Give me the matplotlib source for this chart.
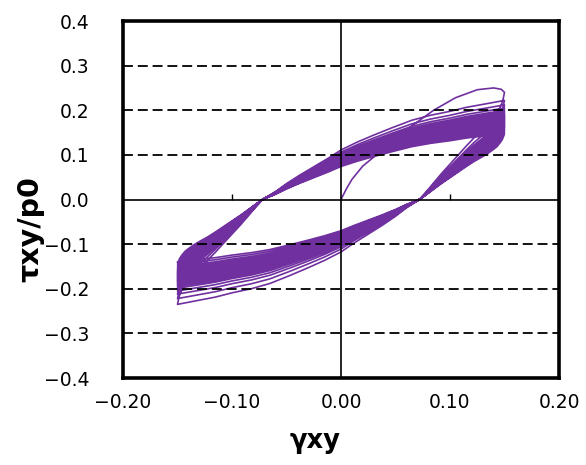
import numpy as np
import matplotlib
matplotlib.use("Agg")
import matplotlib.pyplot as plt

# axis ticks
x_ticks = [-0.20, -0.10, 0.00, 0.10, 0.20]
x_tick_labels = ["\u22120.20", "\u22120.10", "0.00", "0.10", "0.20"]
y_ticks = [-0.4, -0.3, -0.2, -0.1, 0.0, 0.1, 0.2, 0.3, 0.4]
y_tick_labels = ["\u22120.4", "\u22120.3", "\u22120.2", "\u22120.1", "0.0", "0.1", "0.2", "0.3", "0.4"]
grid_levels = [-0.3, -0.2, -0.1, 0.1, 0.2, 0.3]

# first loading from the origin
gamma_first = [0.000, 0.005, 0.010, 0.020, 0.030, 0.045, 0.065, 0.085, 0.105, 0.125, 0.140, 0.147, 0.150]
tau_first = [0.000, 0.024, 0.045, 0.075, 0.095, 0.125, 0.165, 0.200, 0.228, 0.246, 0.250, 0.247, 0.240]

# shape of a loading branch, tau / peak, from -gamma_a to +gamma_a
gamma_branch = [-0.150, -0.149, -0.148, -0.146, -0.143, -0.140, -0.135, -0.130, -0.122,
                -0.115, -0.108, -0.100, -0.092, -0.085, -0.078, -0.072, -0.060, -0.050,
                -0.038, -0.025, -0.012, 0.000, 0.015, 0.030, 0.047, 0.065, 0.082,
                0.100, 0.115, 0.130, 0.142, 0.150]
tau_branch = [-1.00, -0.95, -0.91, -0.86, -0.80, -0.76, -0.70, -0.65, -0.575,
              -0.50, -0.42, -0.33, -0.24, -0.155, -0.07, 0.00, 0.08, 0.16,
              0.245, 0.33, 0.415, 0.50, 0.58, 0.65, 0.725, 0.80, 0.85,
              0.89, 0.93, 0.96, 0.985, 1.00]

# peak stress of each cycle
pos_peaks = [0.240, 0.222, 0.212, 0.205, 0.200, 0.197, 0.194, 0.191, 0.189, 0.187,
             0.185, 0.183, 0.181, 0.179, 0.177, 0.175, 0.173, 0.171, 0.169, 0.167,
             0.165, 0.163, 0.161, 0.158, 0.155, 0.152, 0.148]
neg_peaks = [-0.235, -0.222, -0.212, -0.205, -0.199, -0.195, -0.192, -0.189, -0.186,
             -0.184, -0.182, -0.180, -0.178, -0.176, -0.174, -0.172, -0.170, -0.168,
             -0.166, -0.164, -0.162, -0.160, -0.157, -0.154, -0.150, -0.145, -0.140]

purple = "#7030A0"

# build the path: first loading, then unload / reload each cycle
gb = np.array(gamma_branch)
tb = np.array(tau_branch)
gx = list(gamma_first)
ty = list(tau_first)
for i in range(len(neg_peaks)):
    p = pos_peaks[i]
    n = abs(neg_peaks[i])
    # unloading branch, +gamma_a -> -gamma_a
    v = -tb
    gx += list(-gb[1:])
    ty += list(np.where(v > 0, v * p, v * n)[1:])
    # reloading branch, -gamma_a -> +gamma_a
    if i + 1 < len(pos_peaks):
        p2 = pos_peaks[i + 1]
        gx += list(gb[1:])
        ty += list(np.where(tb > 0, tb * p2, tb * n)[1:])

fig = plt.figure(figsize=(5.86, 4.65), dpi=100)
ax = fig.add_axes([123 / 586, 1 - 378 / 465, 436 / 586, 357 / 465])

ax.plot(gx, ty, color=purple, lw=1.2, zorder=2, solid_joinstyle="round")

# dashed grid, zero lines
for g in grid_levels:
    ax.axhline(g, color="black", lw=1.3, dashes=(5.5, 2.7), zorder=3)
ax.axhline(0, color="black", lw=1.2, zorder=3)
ax.axvline(0, color="black", lw=1.2, zorder=3)
# small tick marks on the zero line
ax.vlines([t for t in x_ticks if abs(t) > 0.01 and abs(t) < 0.19], 0, 0.012,
          color="black", lw=1.0, zorder=3)

ax.set_xlim(-0.20, 0.20)
ax.set_ylim(-0.4, 0.4)
ax.set_xticks(x_ticks)
ax.set_xticklabels(x_tick_labels)
ax.set_yticks(y_ticks)
ax.set_yticklabels(y_tick_labels)
ax.tick_params(axis="x", length=0, pad=11, labelsize=13.5)
ax.tick_params(axis="y", length=0, pad=24, labelsize=13.5)
for s in ax.spines.values():
    s.set_linewidth(2.6)

fig.text(315 / 586, 1 - 441 / 465, "\u03b3xy", fontsize=18.5, fontweight="bold",
         ha="center", va="center")
fig.text(30 / 586, 1 - 229 / 465, "\u03c4xy/p0", fontsize=20.5, fontweight="bold",
         ha="center", va="center", rotation=90)

fig.savefig("out.png", dpi=100)
